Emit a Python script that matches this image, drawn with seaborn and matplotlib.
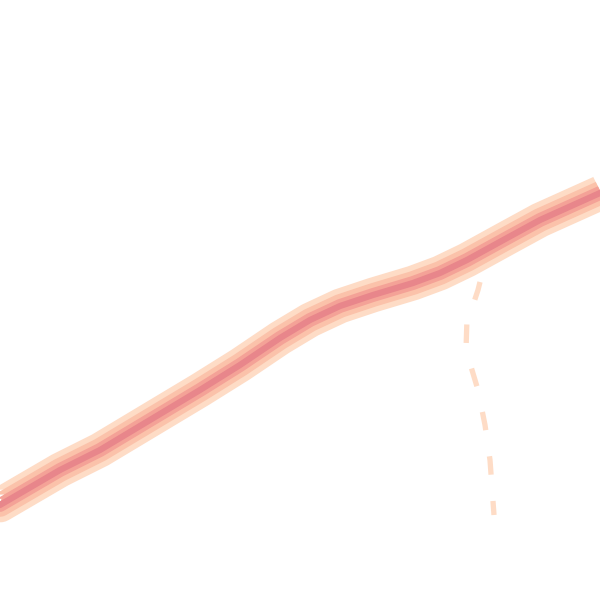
import numpy as np
import pandas as pd
import matplotlib
matplotlib.use("Agg")
import matplotlib.pyplot as plt
import seaborn as sns

# main band (x across, y up from the bottom)
band_x = [-10, 0, 60, 100, 150, 200, 240, 280, 310, 340, 373, 413, 440, 467, 507, 540, 600, 610]
band_y = [100, 95, 130, 150, 180, 210, 235, 262, 280, 294, 305, 317, 327, 340, 362, 380, 407, 412]

# sparse branch dropping off the band
branch_x = [480, 478, 473, 467, 466, 472, 478, 485, 490, 494]
branch_y = [318, 310, 295, 282, 250, 230, 210, 175, 140, 85]

band = pd.DataFrame({"x": band_x, "y": band_y})
branch = pd.DataFrame({"x": branch_x, "y": branch_y})

sns.set_theme(style="white")
fig = plt.figure(figsize=(6, 6), dpi=100)
ax = fig.add_axes([0, 0, 1, 1])

# branch first so the band sits on top
sns.lineplot(data=branch, x="x", y="y", sort=False, estimator=None, ax=ax,
             color="#fedcc6", lw=3.8, linestyle=(0, (3.5, 5)))

# band: light halo, salmon middle, darker core
layers = [("#fedcc6", 25), ("#fbc2aa", 17), ("#f4a297", 10), ("#e8868b", 4.5)]
for col, w in layers:
    sns.lineplot(data=band, x="x", y="y", sort=False, estimator=None, ax=ax,
                 color=col, lw=w, solid_capstyle="butt", solid_joinstyle="round")

ax.set_xlim(0, 600)
ax.set_ylim(0, 600)
ax.set_axis_off()

fig.savefig("out.png", dpi=100)
